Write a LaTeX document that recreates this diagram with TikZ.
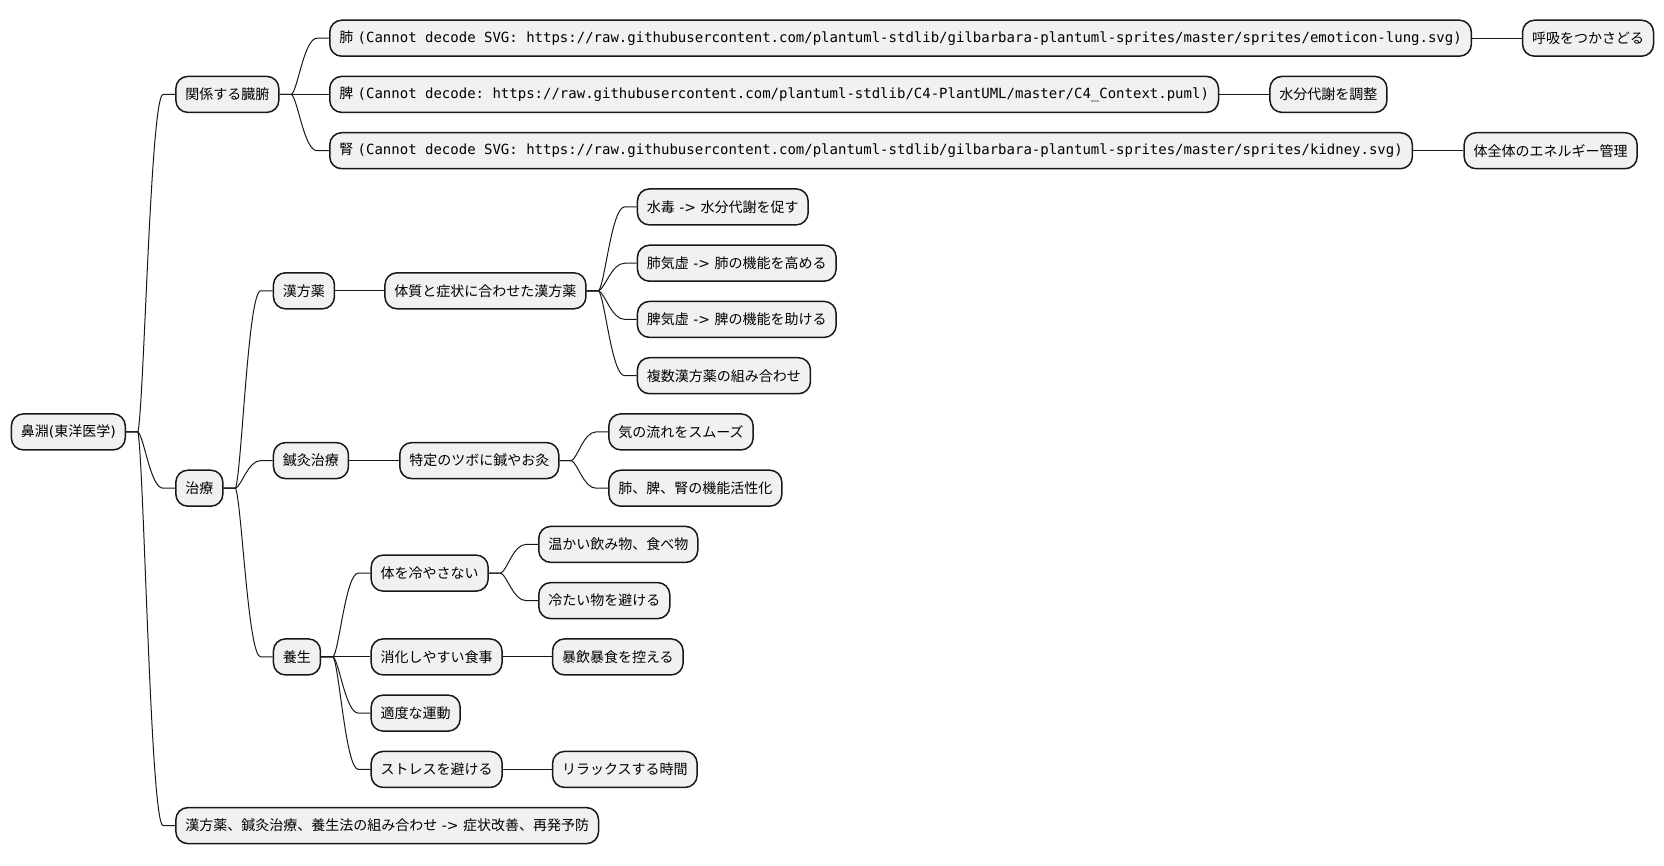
\documentclass[tikz,border=0pt]{standalone}
\usepackage{fontspec}
\setmainfont{DejaVu Sans}
\newfontfamily\cjk{Noto Sans CJK JP}
\newfontfamily\lat{DejaVu Sans}
\newfontfamily\mono{DejaVu Sans Mono}
\usetikzlibrary{calc}
\definecolor{boxfill}{HTML}{F1F1F1}
\definecolor{boxline}{HTML}{181818}
\tikzset{
  mm/.style={draw=boxline, fill=boxfill, line width=1.5pt, rounded corners=12pt,
    minimum height=36pt, inner xsep=9.5pt, inner ysep=0pt, anchor=west,
    font=\fontsize{14pt}{16pt}\selectfont\cjk\frenchspacing},
  mmline/.style={draw=boxline, line width=1pt}
}
\newcommand\mmlink[2]{%
  \draw[mmline] let \p1=(#1.east), \p2=(#2.west) in
    (\p1) -- (\x1+12,\y1)
    .. controls (\x1+12+0.25*\x2-0.25*\x1-6, \y1+0.1*\y2-0.1*\y1)
            and (\x1+12+0.5*\x2-0.5*\x1-12, \y2)
    .. (\x2-12,\y2) -- (\p2);}
\begin{document}
\begin{tikzpicture}[x=1pt,y=-1pt]
\useasboundingbox (0,0) rectangle (1664,865);
% level 0
\node[mm] (root) at (10.6,431.9) {鼻淵{\lat(}東洋医学{\lat)}};
% level 1
\node[mm] (kankei) at (175.1,94.4) {関係する臓腑};
\node[mm] (chiryo) at (175.1,488.2) {治療};
\node[mm] (kumi) at (175.1,825.6) {漢方薬、鍼灸治療、養生法の組み合わせ{\lat\ -> }症状改善、再発予防};
% organs
\node[mm] (hai) at (329,38.2) {肺{\lat\ }{\mono(Cannot decode SVG: https://raw.githubusercontent.com/plantuml-stdlib/gilbarbara-plantuml-sprites/master/sprites/emoticon-lung.svg)}};
\node[mm] (hi) at (329,94.4) {脾{\lat\ }{\mono(Cannot decode: https://raw.githubusercontent.com/plantuml-stdlib/C4-PlantUML/master/C4\_Context.puml)}};
\node[mm] (jin) at (329,150.7) {腎{\lat\ }{\mono(Cannot decode SVG: https://raw.githubusercontent.com/plantuml-stdlib/gilbarbara-plantuml-sprites/master/sprites/kidney.svg)}};
\node[mm] (hai2) at (1521.8,38.2) {呼吸をつかさどる};
\node[mm] (hi2) at (1269.2,94.4) {水分代謝を調整};
\node[mm] (jin2) at (1463.4,150.7) {体全体のエネルギー管理};
% treatment
\node[mm] (kampo) at (272.7,290.8) {漢方薬};
\node[mm] (shinkyu) at (272.7,460.6) {鍼灸治療};
\node[mm] (yojo) at (272.7,656.9) {養生};
\node[mm] (taishitsu) at (384.2,290.8) {体質と症状に合わせた漢方薬};
\node[mm] (k1) at (636.7,206.9) {水毒{\lat\ -> }水分代謝を促す};
\node[mm] (k2) at (636.7,263.2) {肺気虚{\lat\ -> }肺の機能を高める};
\node[mm] (k3) at (636.7,319.4) {脾気虚{\lat\ -> }脾の機能を助ける};
\node[mm] (k4) at (636.7,375.7) {複数漢方薬の組み合わせ};
\node[mm] (tokutei) at (399.0,460.6) {特定のツボに鍼やお灸};
\node[mm] (s1) at (608.1,431.9) {気の流れをスムーズ};
\node[mm] (s2) at (608.1,488.2) {肺、脾、腎の機能活性化};
\node[mm] (hiyasa) at (370.4,573.1) {体を冷やさない};
\node[mm] (shoka) at (370.4,656.9) {消化しやすい食事};
\node[mm] (undo) at (370.4,713.1) {適度な運動};
\node[mm] (stress) at (370.4,769.4) {ストレスを避ける};
\node[mm] (atatakai) at (538.0,544.4) {温かい飲み物、食べ物};
\node[mm] (tsumetai) at (538.0,600.6) {冷たい物を避ける};
\node[mm] (bouin) at (551.8,656.9) {暴飲暴食を控える};
\node[mm] (relax) at (551.8,769.4) {リラックスする時間};
% links
\mmlink{root}{kankei}
\mmlink{root}{chiryo}
\mmlink{root}{kumi}
\mmlink{kankei}{hai}
\mmlink{kankei}{hi}
\mmlink{kankei}{jin}
\mmlink{hai}{hai2}
\mmlink{hi}{hi2}
\mmlink{jin}{jin2}
\mmlink{chiryo}{kampo}
\mmlink{chiryo}{shinkyu}
\mmlink{chiryo}{yojo}
\mmlink{kampo}{taishitsu}
\mmlink{taishitsu}{k1}
\mmlink{taishitsu}{k2}
\mmlink{taishitsu}{k3}
\mmlink{taishitsu}{k4}
\mmlink{shinkyu}{tokutei}
\mmlink{tokutei}{s1}
\mmlink{tokutei}{s2}
\mmlink{yojo}{hiyasa}
\mmlink{yojo}{shoka}
\mmlink{yojo}{undo}
\mmlink{yojo}{stress}
\mmlink{hiyasa}{atatakai}
\mmlink{hiyasa}{tsumetai}
\mmlink{shoka}{bouin}
\mmlink{stress}{relax}
\end{tikzpicture}
\end{document}
